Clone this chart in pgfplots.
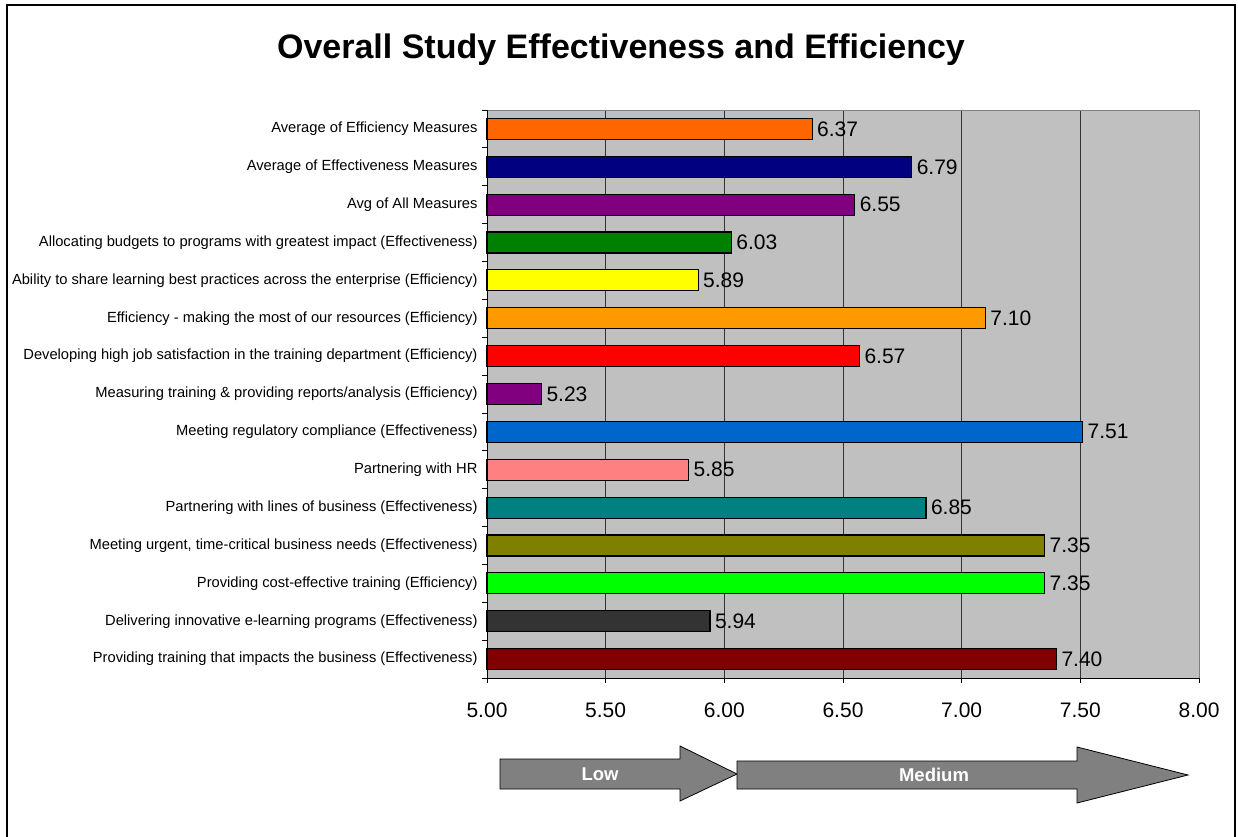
\documentclass[border=0pt]{standalone}
\usepackage{pgfplots}
\pgfplotsset{compat=1.18}
\usepackage{fontspec}
\setmainfont{Liberation Sans}
\definecolor{plotbg}{HTML}{C0C0C0}
\definecolor{c0}{HTML}{800000}
\definecolor{c1}{HTML}{333333}
\definecolor{c2}{HTML}{00FF00}
\definecolor{c3}{HTML}{808000}
\definecolor{c4}{HTML}{008080}
\definecolor{c5}{HTML}{FF8080}
\definecolor{c6}{HTML}{0066CC}
\definecolor{c7}{HTML}{800080}
\definecolor{c8}{HTML}{FF0000}
\definecolor{c9}{HTML}{FF9900}
\definecolor{c10}{HTML}{FFFF00}
\definecolor{c11}{HTML}{008000}
\definecolor{c12}{HTML}{800080}
\definecolor{c13}{HTML}{000080}
\definecolor{c14}{HTML}{FF6600}
\definecolor{arrowgray}{HTML}{808080}
\begin{document}
\begin{tikzpicture}[x=1pt,y=1pt]
\useasboundingbox (0,0) rectangle (1238,836);
\draw[line width=1.5pt] (7,-5) -- (7,831) -- (1235,831) -- (1235,-5);
\node[font=\fontsize{34}{40}\selectfont\bfseries] at (621,786) {Overall Study Effectiveness and Efficiency};
\begin{axis}[
  at={(487pt,158pt)}, anchor=south west,
  width=712pt, height=568pt, scale only axis,
  xbar, bar width=21pt, bar shift=0pt,
  xmin=5, xmax=8, ymin=-0.5, ymax=14.5,
  axis background/.style={fill=plotbg},
  xtick={5,5.5,...,8},
  xticklabels={5.00,5.50,6.00,6.50,7.00,7.50,8.00},
  xmajorgrids, major grid style={black!80, line width=0.7pt},
  ytick={0,...,14},
  yticklabels={
    Providing training that impacts the business (Effectiveness),
    Delivering innovative e-learning programs (Effectiveness),
    Providing cost-effective training (Efficiency),
    {Meeting urgent, time-critical business needs (Effectiveness)},
    Partnering with lines of business (Effectiveness),
    Partnering with HR,
    Meeting regulatory compliance (Effectiveness),
    Measuring training \& providing reports/analysis (Efficiency),
    Developing high job satisfaction in the training department (Efficiency),
    Efficiency - making the most of our resources (Efficiency),
    Ability to share learning best practices across the enterprise (Efficiency),
    Allocating budgets to programs with greatest impact (Effectiveness),
    Avg of All Measures,
    Average of Effectiveness Measures,
    Average of Efficiency Measures},
  y tick label style={font=\fontsize{14.7}{17}\selectfont, xshift=-6pt},
  x tick label style={font=\fontsize{21}{24}\selectfont, yshift=-21pt},
  /pgf/number format/assume math mode=true,
  major tick length=0pt,
  extra y ticks={-0.5,0.5,...,14.5},
  extra y tick labels={},
  extra y tick style={major tick length=5pt, tick pos=left, tick align=outside, tick style={black, line width=0.8pt}, grid=none},
  extra x ticks={5,5.5,...,8},
  extra x tick labels={},
  extra x tick style={major tick length=5pt, tick pos=left, tick align=outside, tick style={black, line width=0.8pt}, grid=none},
  axis line style={gray, line width=0.8pt},
  clip=false,
  nodes near coords,
  nodes near coords style={font=\fontsize{21}{24}\selectfont, anchor=west, xshift=1pt, /pgf/number format/fixed, /pgf/number format/fixed zerofill, /pgf/number format/precision=2},
  every axis plot/.append style={draw=black, line width=1.2pt},
]
\addplot[fill=c0] coordinates {(7.40,0)};
\addplot[fill=c1] coordinates {(5.94,1)};
\addplot[fill=c2] coordinates {(7.35,2)};
\addplot[fill=c3] coordinates {(7.35,3)};
\addplot[fill=c4] coordinates {(6.85,4)};
\addplot[fill=c5] coordinates {(5.85,5)};
\addplot[fill=c6] coordinates {(7.51,6)};
\addplot[fill=c7] coordinates {(5.23,7)};
\addplot[fill=c8] coordinates {(6.57,8)};
\addplot[fill=c9] coordinates {(7.10,9)};
\addplot[fill=c10] coordinates {(5.89,10)};
\addplot[fill=c11] coordinates {(6.03,11)};
\addplot[fill=c12] coordinates {(6.55,12)};
\addplot[fill=c13] coordinates {(6.79,13)};
\addplot[fill=c14] coordinates {(6.37,14)};
\draw[black, line width=1pt] (rel axis cs:0,0) -- (rel axis cs:0,1);
\draw[black, line width=1pt] (rel axis cs:0,0) -- (rel axis cs:1,0);
\end{axis}
\draw[fill=arrowgray, line width=0.8pt] (500,77) -- (680,77) -- (680,90) -- (737,62) -- (680,35) -- (680,47) -- (500,47) -- cycle;
\draw[fill=arrowgray, line width=0.8pt] (737,75) -- (1077,75) -- (1077,89) -- (1188,61) -- (1077,33) -- (1077,47) -- (737,47) -- cycle;
\node[white, font=\fontsize{18.5}{22}\selectfont\bfseries] at (600,62) {Low};
\node[white, font=\fontsize{18.5}{22}\selectfont\bfseries] at (934,61) {Medium};
\end{tikzpicture}
\end{document}
